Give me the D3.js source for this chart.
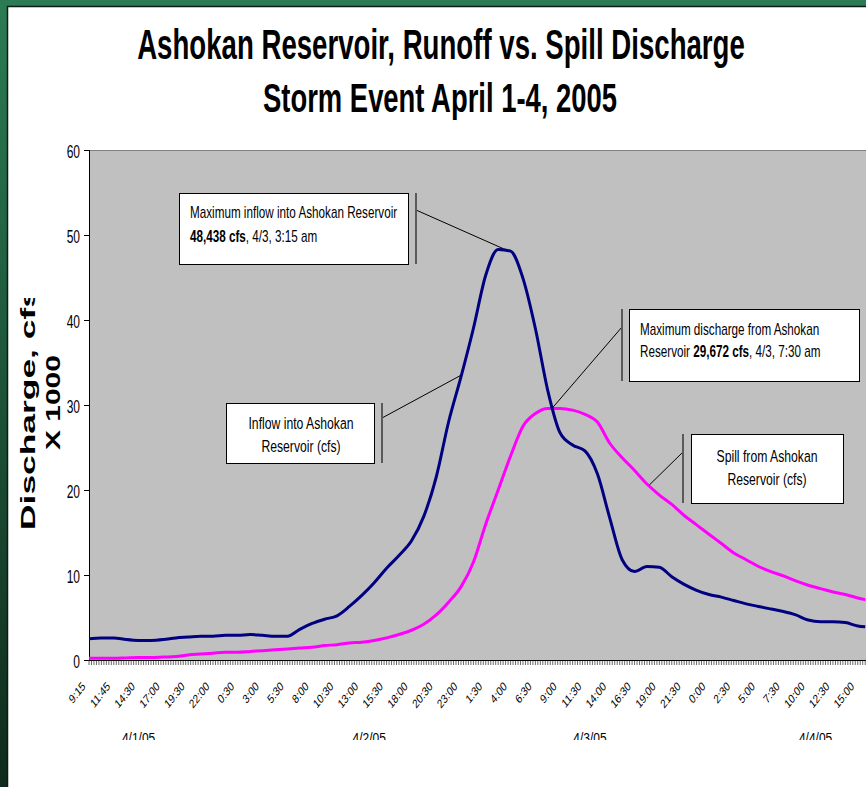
<!DOCTYPE html>
<html>
<head>
<meta charset="utf-8">
<script src="https://cdn.jsdelivr.net/npm/d3@7"></script>
<style>
body { margin: 0; background: #fff; }
svg { display: block; }
text { font-family: "Liberation Sans", Arial, sans-serif; fill: #000; }
</style>
</head>
<body>
<svg id="chart" width="866" height="787"></svg>
<script>
// x categories are 15 minute readings, a label every 10th reading
var timeLabels = ["9:15","11:45","14:30","17:00","19:30","22:00","0:30","3:00","5:30","8:00",
  "10:30","13:00","15:30","18:00","20:30","23:00","1:30","4:00","6:30","9:00",
  "11:30","14:00","16:30","19:00","21:30","0:00","2:30","5:00","7:30","10:00","12:30","15:00"];
var dateLabels = ["4/1/05", "4/2/05", "4/3/05", "4/4/05"];
var dateAt = [20, 113, 202, 293];
var nCats = 313;
var yTicks = [0, 10, 20, 30, 40, 50, 60];

// readings sampled every 5th category (values in cfs x 1000)
var sampleIdx = d3.range(0, 311, 5).concat([313]);
var inflow = [2.5,2.6,2.6,2.4,2.3,2.3,2.4,2.6,2.7,2.8,
  2.8,2.9,2.9,3.0,2.9,2.8,2.8,3.6,4.3,4.8,
  5.2,6.3,7.6,9.1,10.8,12.3,14.0,16.9,21.5,28.0,
  33.3,39.0,45.3,48.3,48.1,44.9,39.0,31.7,26.7,25.3,
  24.6,21.9,16.7,11.8,10.4,11.0,10.9,9.8,8.9,8.2,
  7.7,7.4,7.0,6.6,6.3,6.0,5.7,5.3,4.7,4.5,
  4.5,4.4,4.0,3.9];
var spill = [0.2,0.2,0.2,0.25,0.3,0.3,0.35,0.4,0.6,0.7,
  0.8,0.9,0.9,1.0,1.1,1.2,1.3,1.4,1.5,1.7,
  1.8,2.0,2.1,2.3,2.6,3.0,3.5,4.2,5.3,6.8,
  8.6,11.5,16.0,20.0,24.0,27.5,29.0,29.6,29.6,29.4,
  28.9,28.0,25.5,23.8,22.3,20.7,19.4,18.3,17.0,15.9,
  14.8,13.7,12.6,11.8,11.0,10.4,9.9,9.3,8.8,8.4,
  8.0,7.7,7.3,7.1];

// callout texts: each line is a list of [text, bold]
var peakNote = [[["Maximum inflow into Ashokan Reservoir", false]],
  [["48,438 cfs", true], [", 4/3, 3:15 am", false]]];
var spillPeakNote = [[["Maximum discharge from Ashokan", false]],
  [["Reservoir ", false], ["29,672 cfs", true], [", 4/3, 7:30 am", false]]];
var inflowNote = ["Inflow into Ashokan", "Reservoir (cfs)"];
var spillNote = ["Spill from Ashokan", "Reservoir (cfs)"];
// points the callout leaders go to: [category, value]
var noteAnchors = [[167, 48.4], [187, 29.7], [150, 33.5], [226, 20.6]];

var svg = d3.select("#chart");

// green frame and white panel
var defs = svg.append("defs");
var grad = defs.append("linearGradient").attr("id", "green")
  .attr("x1", 0).attr("y1", 0).attr("x2", 0).attr("y2", 1);
grad.append("stop").attr("offset", "0%").attr("stop-color", "#2b7c55");
grad.append("stop").attr("offset", "100%").attr("stop-color", "#0f2a1c");
svg.append("rect").attr("width", 866).attr("height", 787).attr("fill", "url(#green)");
svg.append("rect").attr("x", 7.5).attr("y", 6.5).attr("width", 900).attr("height", 900)
  .attr("fill", "#fff").attr("stroke", "#0b1d12").attr("stroke-width", 1.5);

var x = d3.scaleLinear().domain([0, nCats]).range([89, 865.2]);
var y = d3.scaleLinear().domain([0, 60]).range([660, 150]);

// plot area
svg.append("rect").attr("x", 89).attr("y", 150).attr("width", 780).attr("height", 510)
  .attr("fill", "#c0c0c0");
svg.append("line").attr("x1", 89).attr("x2", 866).attr("y1", 150.5).attr("y2", 150.5)
  .attr("stroke", "#808080");

// title
function fitLine(str, cx, baseY, width, capH) {
  var t = svg.append("text").attr("font-size", 40).attr("font-weight", "bold")
    .attr("text-anchor", "middle").text(str);
  var w = t.node().getComputedTextLength();
  t.attr("transform", "translate(" + cx + "," + baseY + ") scale(" + (width / w) + "," + (capH / (0.716 * 40)) + ")");
}
fitLine("Ashokan Reservoir, Runoff vs. Spill Discharge", 441, 59, 608, 30);
fitLine("Storm Event April 1-4, 2005", 440, 112, 354, 29);

// y axis title
defs.append("clipPath").attr("id", "ytclip").append("rect")
  .attr("x", 0).attr("y", 298).attr("width", 85).attr("height", 300);
var yt = svg.append("g").attr("clip-path", "url(#ytclip)");
function vertLine(str, bx, startY, len) {
  var t = yt.append("text").attr("font-size", 19.5).attr("font-weight", "bold").text(str);
  var L = t.node().getComputedTextLength();
  t.attr("transform", "translate(" + bx + "," + startY + ") scale(1," + (len / L) + ") rotate(-90)");
}
vertLine("Discharge, cfs", 35, 530, 242);
vertLine("X 1000", 60, 450, 95);

// y axis
svg.append("line").attr("x1", 89.5).attr("x2", 89.5).attr("y1", 150).attr("y2", 660)
  .attr("stroke", "#000");
var yg = svg.append("g").selectAll("g").data(yTicks).enter().append("g");
yg.append("line").attr("x1", 84).attr("x2", 89).attr("y1", function(d) { return y(d) + 0.5; })
  .attr("y2", function(d) { return y(d) + 0.5; }).attr("stroke", "#000");
yg.append("text").attr("text-anchor", "end").attr("font-size", 12)
  .attr("transform", function(d) { return "translate(80," + (y(d) + 8) + ") scale(1,1.6)"; })
  .text(function(d) { return d; });

// x axis: a small tick on every category
svg.append("g").selectAll("line").data(d3.range(0, nCats + 1)).enter().append("line")
  .attr("x1", function(d) { return x(d); }).attr("x2", function(d) { return x(d); })
  .attr("y1", 660).attr("y2", 665).attr("stroke", "#444").attr("stroke-width", 0.8);
svg.append("line").attr("x1", 89).attr("x2", 866).attr("y1", 660.5).attr("y2", 660.5)
  .attr("stroke", "#000");
svg.append("g").selectAll("text").data(timeLabels).enter().append("text")
  .attr("text-anchor", "end").attr("font-size", 9.6)
  .attr("transform", function(d, i) { return "translate(" + (x(i * 10) - 3) + ",687) scale(1,1.3) rotate(-45)"; })
  .text(function(d) { return d; });

defs.append("clipPath").attr("id", "dateclip").append("rect")
  .attr("x", 0).attr("y", 700).attr("width", 866).attr("height", 40);
svg.append("g").attr("clip-path", "url(#dateclip)").selectAll("text").data(dateLabels).enter()
  .append("text").attr("text-anchor", "middle").attr("font-size", 12)
  .attr("transform", function(d, i) { return "translate(" + x(dateAt[i]) + ",743) scale(1,1.15)"; })
  .text(function(d) { return d; });

// series
var line = d3.line().curve(d3.curveMonotoneX)
  .x(function(d, i) { return x(sampleIdx[i]); }).y(function(d) { return y(d); });
svg.append("path").datum(spill).attr("d", line).attr("fill", "none")
  .attr("stroke", "#ff00ff").attr("stroke-width", 3).attr("stroke-linejoin", "round");
svg.append("path").datum(inflow).attr("d", line).attr("fill", "none")
  .attr("stroke", "#000080").attr("stroke-width", 3).attr("stroke-linejoin", "round");

// callouts
function callout(box, barX, from, anchor) {
  svg.append("line").attr("x1", from[0]).attr("y1", from[1])
    .attr("x2", x(anchor[0])).attr("y2", y(anchor[1])).attr("stroke", "#000").attr("stroke-width", 1);
  svg.append("line").attr("x1", barX).attr("x2", barX).attr("y1", box[1]).attr("y2", box[3])
    .attr("stroke", "#5a5a5a").attr("stroke-width", 2);
  svg.append("rect").attr("x", box[0] + 0.5).attr("y", box[1] + 0.5)
    .attr("width", box[2] - box[0]).attr("height", box[3] - box[1])
    .attr("fill", "#fff").attr("stroke", "#000").attr("stroke-width", 1);
}
function richLines(lines, tx, bases) {
  lines.forEach(function(parts, k) {
    var t = svg.append("text").attr("font-size", 11.7)
      .attr("transform", "translate(" + tx + "," + bases[k] + ") scale(1,1.38)");
    parts.forEach(function(p) {
      t.append("tspan").attr("font-weight", p[1] ? "bold" : "normal").text(p[0]);
    });
  });
}
function centerLines(lines, cx, bases) {
  lines.forEach(function(s, k) {
    svg.append("text").attr("font-size", 12.2).attr("text-anchor", "middle")
      .attr("transform", "translate(" + cx + "," + bases[k] + ") scale(1,1.38)").text(s);
  });
}

callout([179, 193, 408, 264], 416, [416, 210], noteAnchors[0]);
richLines(peakNote, 190, [218, 242]);
callout([629, 309, 859, 381], 622, [622, 327], noteAnchors[1]);
richLines(spillPeakNote, 640, [335, 357]);
callout([226, 403, 374, 463], 382, [382, 418], noteAnchors[2]);
centerLines(inflowNote, 301, [429, 452]);
callout([691, 434, 843, 503], 683, [683, 452], noteAnchors[3]);
centerLines(spillNote, 767, [462, 485]);
</script>
</body>
</html>
